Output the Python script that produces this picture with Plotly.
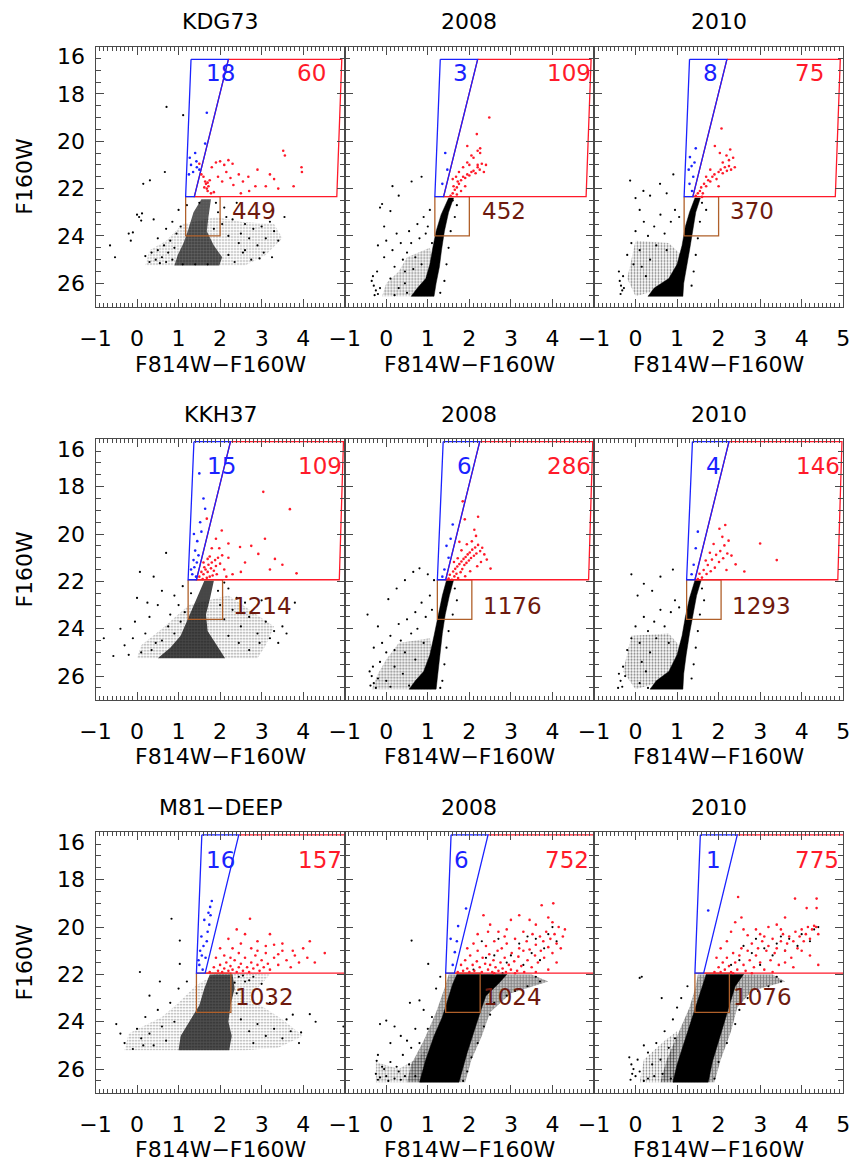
import plotly.graph_objects as go

# ---------------- data ----------------
TITLES = ["KDG73", "2008", "2010", "KKH37", "2008", "2010", "M81\u2212DEEP", "2008", "2010"]

# selection regions (one set per galaxy row)
BLUE_R1_X = [1.30, 2.20, 1.38, 1.17, 1.30]
BLUE_R1_Y = [16.54, 16.54, 22.34, 22.34, 16.54]
RED_R1_X = [2.20, 4.93, 4.81, 1.38, 2.20]
RED_R1_Y = [16.54, 16.54, 22.34, 22.34, 16.54]
BROWN_R1_X = [1.17, 2.00, 2.00, 1.17, 1.17]
BROWN_R1_Y = [22.34, 22.34, 24.00, 24.00, 22.34]

BLUE_R2_X = [1.37, 2.25, 1.43, 1.23, 1.37]
BLUE_R2_Y = [16.10, 16.10, 21.93, 21.93, 16.10]
RED_R2_X = [2.25, 4.97, 4.87, 1.43, 2.25]
RED_R2_Y = [16.10, 16.10, 21.93, 21.93, 16.10]
BROWN_R2_X = [1.23, 2.06, 2.06, 1.23, 1.23]
BROWN_R2_Y = [21.93, 21.93, 23.60, 23.60, 21.93]

BLUE_R3_X = [1.56, 2.45, 1.64, 1.43, 1.56]
BLUE_R3_Y = [16.11, 16.11, 21.95, 21.95, 16.11]
RED_R3_X = [5.80, 2.45, None, 1.64, 5.80]
RED_R3_Y = [16.11, 16.11, None, 21.95, 21.95]
BROWN_R3_X = [1.43, 2.26, 2.26, 1.43, 1.43]
BROWN_R3_Y = [21.95, 21.95, 23.60, 23.60, 21.95]

# counts shown in each panel: (blue, red, brown)
COUNTS = [("18", "60", "449"), ("3", "109", "452"), ("8", "75", "370"),
          ("15", "109", "1214"), ("6", "286", "1176"), ("4", "146", "1293"),
          ("16", "157", "1032"), ("6", "752", "1024"), ("1", "775", "1076")]
COUNT_X = [(1.66, 3.85, 2.28), (1.61, 3.86, 2.30), (1.62, 3.84, 2.27),
           (1.69, 3.87, 2.32), (1.70, 3.87, 2.32), (1.70, 3.87, 2.32),
           (1.67, 3.87, 2.36), (1.64, 3.82, 2.32), (1.70, 3.84, 2.34)]
COUNT_Y = [(17.1, 22.95), (17.13, 23.03), (17.15, 22.97)]

# ---- KDG73 ----
KDG_CORE = [(1.55, 22.45), (1.78, 22.45), (1.72, 23.2), (1.68, 23.8), (1.85, 24.4), (2.05, 24.9), (1.98, 25.25),
            (0.9, 25.25), (0.98, 24.8), (1.12, 24.3), (1.22, 23.8), (1.36, 23.0)]
KDG_HALO = [(1.1, 23.5), (1.9, 23.2), (2.5, 23.4), (3.3, 23.5), (3.5, 24.1), (3.1, 24.8), (2.6, 25.25),
            (0.2, 25.25), (0.3, 24.6), (0.7, 24.2)]
KDG_BLACK = [(-0.65, 24.4), (-0.53, 24.9), (-0.2, 23.9), (-0.15, 24.2), (-0.1, 23.85), (0.0, 23.1), (0.05, 23.2),
             (0.1, 23.35), (0.12, 23.05), (0.15, 21.8), (0.31, 21.65), (0.67, 21.3), (0.71, 18.55), (1.11, 18.9),
             (0.2, 24.85), (0.3, 25.1), (0.35, 24.7), (0.45, 25.0), (0.5, 24.6), (0.55, 25.15), (0.6, 24.9),
             (0.65, 24.4), (0.7, 25.1), (0.75, 24.7), (0.8, 24.2), (0.85, 25.0), (0.9, 24.5), (0.5, 24.1),
             (0.7, 23.7), (0.85, 23.4), (1.0, 22.9), (2.3, 23.3), (2.45, 24.3), (2.5, 23.9), (2.6, 24.6),
             (2.7, 24.1), (2.8, 23.7), (2.9, 24.4), (3.0, 23.6), (3.1, 24.1), (3.2, 23.4), (3.3, 23.8),
             (3.4, 24.2), (3.25, 24.9), (2.95, 24.95), (2.2, 24.8), (2.35, 25.1), (2.1, 22.8), (2.05, 23.5),
             (2.2, 24.0), (3.55, 23.2), (2.55, 24.7), (2.75, 25.0), (3.05, 24.7), (1.9, 22.6), (1.95, 23.0),
             (1.85, 23.7), (2.15, 23.2), (1.2, 22.7), (1.05, 23.6), (0.95, 23.9), (1.5, 22.6), (2.4, 22.6),
             (0.4, 23.3), (2.6, 23.5), (1.7, 25.2), (1.4, 25.2), (1.1, 25.2)]
KDG_RED = [(1.64, 21.7), (1.66, 21.8), (1.7, 21.75), (1.72, 21.9), (1.68, 22.0), (1.75, 21.65), (1.62, 21.95),
           (1.7, 22.1), (1.78, 22.2), (1.6, 21.5), (1.5, 20.95), (1.55, 21.4), (1.8, 21.1), (1.9, 20.9),
           (2.0, 20.85), (2.1, 21.0), (2.2, 20.8), (2.3, 20.95), (2.15, 21.3), (1.95, 21.5), (2.32, 21.85),
           (2.45, 21.4), (2.68, 21.5), (2.7, 22.1), (2.55, 21.7), (2.9, 21.2), (3.2, 21.4), (3.3, 21.6),
           (3.1, 21.9), (3.52, 20.4), (3.56, 20.6), (3.77, 21.9), (3.96, 21.1), (3.97, 21.3), (3.4, 22.0),
           (2.85, 21.9), (2.05, 21.7), (2.5, 22.2), (1.85, 22.15), (2.25, 21.55)]
KDG_BLUE = [(1.64, 20.1), (1.68, 18.8), (1.27, 20.7), (1.3, 21.0), (1.25, 21.4), (1.43, 20.85), (1.44, 21.1),
            (1.35, 21.3), (1.4, 20.5), (1.5, 21.2)]

# ---- KDG73 2008 ----
K08_CORE = [(1.5, 22.4), (1.62, 22.4), (1.5, 23.0), (1.4, 23.8), (1.33, 24.6), (1.28, 25.3), (1.2, 26.0),
            (1.15, 26.55), (0.6, 26.55), (0.75, 26.2), (0.95, 25.8), (1.05, 25.2), (1.12, 24.5), (1.2, 23.8),
            (1.32, 23.1)]
K08_HALO = [(0.5, 24.9), (1.05, 24.5), (1.15, 25.5), (1.1, 26.55), (-0.1, 26.55), (0.0, 26.0), (0.3, 25.5)]
K08_BLACK = [(-0.35, 25.9), (-0.3, 26.1), (-0.25, 26.3), (-0.2, 26.45), (-0.28, 26.5), (-0.15, 26.2),
             (-0.32, 25.7), (-0.22, 25.5), (-0.2, 24.4), (-0.05, 24.9), (0.0, 24.2), (0.15, 24.6), (0.2, 25.3),
             (0.25, 23.9), (0.35, 24.3), (0.4, 25.0), (0.5, 24.7), (0.55, 23.8), (0.6, 24.3), (0.7, 24.9),
             (0.75, 23.5), (0.8, 24.1), (0.9, 23.2), (1.0, 23.6), (1.05, 22.9), (0.45, 25.5), (0.65, 25.4),
             (0.85, 25.2), (0.1, 25.8), (0.3, 26.2), (0.45, 26.0), (-0.15, 22.8), (-0.1, 22.65), (0.1, 22.95),
             (-0.05, 23.6), (0.61, 21.7), (0.85, 21.5), (0.3, 22.3), (0.15, 21.9), (1.6, 22.5), (1.7, 22.7),
             (1.65, 23.2), (1.55, 23.8), (1.5, 24.5), (1.45, 25.2), (1.4, 25.9), (1.3, 26.4), (0.95, 23.9),
             (1.1, 24.3), (0.2, 26.5), (0.5, 26.4)]
K08_RED = [(1.55, 22.3), (1.6, 22.2), (1.65, 22.05), (1.62, 21.9), (1.7, 21.95), (1.75, 21.8), (1.72, 21.7),
           (1.8, 21.65), (1.85, 21.5), (1.9, 21.55), (1.95, 21.4), (2.0, 21.45), (2.05, 21.3), (2.1, 21.25),
           (2.15, 21.35), (2.2, 21.1), (2.25, 21.2), (2.3, 20.95), (2.2, 21.0), (2.1, 20.7), (2.05, 20.6),
           (2.2, 20.4), (2.26, 20.5), (1.95, 20.9), (1.85, 21.1), (1.75, 21.3), (1.68, 21.5), (1.6, 21.6),
           (2.18, 19.7), (2.48, 19.0), (2.26, 20.3), (1.95, 20.2), (2.0, 21.0), (1.7, 22.25), (1.8, 22.1),
           (1.9, 21.9), (2.35, 21.3), (2.4, 21.0)]
K08_BLUE = [(1.42, 20.5), (1.47, 21.2), (1.35, 21.8)]

# ---- KDG73 2010 ----
K10_CORE = [(1.43, 22.4), (1.56, 22.4), (1.45, 23.0), (1.38, 23.8), (1.3, 24.6), (1.22, 25.4), (1.16, 26.0),
            (1.14, 26.55), (0.3, 26.55), (0.45, 26.2), (0.8, 25.8), (1.0, 25.2), (1.12, 24.4), (1.2, 23.6),
            (1.3, 23.0)]
K10_HALO = [(0.0, 24.2), (0.8, 24.3), (1.1, 24.8), (1.0, 25.6), (0.5, 26.3), (0.0, 26.55), (-0.2, 25.8)]
K10_BLACK = [(-0.38, 25.9), (-0.35, 26.1), (-0.32, 26.3), (-0.36, 26.45), (-0.3, 25.7), (-0.28, 26.2),
             (-0.4, 25.5), (-0.2, 24.8), (-0.1, 24.3), (0.0, 23.8), (0.1, 24.6), (0.2, 23.4), (0.3, 24.0),
             (0.35, 25.0), (0.45, 23.6), (0.5, 24.4), (0.6, 23.1), (0.7, 23.9), (0.75, 24.6), (0.85, 23.4),
             (0.95, 22.9), (1.05, 23.2), (0.15, 25.3), (0.25, 25.7), (-0.05, 25.2), (-0.13, 21.66),
             (0.19, 22.1), (0.59, 21.8), (0.91, 21.4), (0.0, 22.4), (0.35, 22.3), (0.1, 22.9), (0.75, 22.2),
             (1.6, 22.6), (1.7, 22.9), (1.55, 23.4), (1.5, 24.1), (1.45, 24.8), (1.4, 25.5), (1.35, 26.1)]
K10_RED = [(1.45, 22.3), (1.5, 22.2), (1.55, 22.1), (1.58, 21.95), (1.62, 22.2), (1.65, 21.8), (1.7, 21.9),
           (1.75, 21.65), (1.8, 21.7), (1.85, 21.5), (1.9, 21.4), (1.95, 21.6), (2.0, 21.3), (2.05, 21.2),
           (2.1, 21.35), (2.15, 21.1), (2.2, 21.25), (2.25, 21.05), (2.3, 21.2), (2.39, 21.1), (2.03, 20.5),
           (2.07, 19.46), (2.19, 20.6), (1.91, 20.2), (2.1, 20.9), (1.8, 21.2), (1.7, 21.5), (2.25, 20.8),
           (1.6, 22.35), (2.0, 21.9), (2.35, 20.7), (2.28, 20.35)]
K10_BLUE = [(1.31, 20.67), (1.35, 21.05), (1.39, 21.5), (1.3, 21.8), (1.45, 20.3), (1.28, 21.2),
            (1.36, 22.1), (1.42, 20.9)]

# ---- KKH37 ----
KKH_CORE = [(1.62, 21.97), (1.85, 21.97), (1.76, 22.7), (1.66, 23.4), (1.7, 24.1), (1.92, 24.7), (2.12, 25.25),
            (0.5, 25.25), (0.8, 24.8), (1.05, 24.3), (1.25, 23.5), (1.45, 22.7)]
KKH_HALO = [(1.25, 23.0), (2.2, 22.6), (2.8, 23.3), (3.3, 23.9), (3.1, 24.7), (2.9, 25.25), (0.0, 25.25),
            (0.1, 24.7), (0.6, 24.0)]
KKH_BLACK = [(-0.8, 24.4), (-0.4, 24.0), (-0.57, 25.15), (0.0, 22.7), (0.07, 21.6), (0.4, 21.8), (0.7, 20.8),
             (-0.3, 24.7), (-0.1, 24.4), (-0.2, 25.1), (0.1, 25.0), (0.2, 24.2), (0.3, 23.5), (0.45, 24.6),
             (0.5, 23.0), (0.6, 22.4), (0.8, 23.4), (0.9, 22.6), (1.0, 23.0), (1.1, 22.2), (2.3, 23.2),
             (2.5, 23.9), (2.7, 23.5), (2.9, 24.2), (3.1, 23.7), (3.3, 24.1), (3.5, 23.9), (3.6, 24.2),
             (2.2, 22.3), (2.4, 22.7), (2.6, 22.9), (3.0, 22.8), (3.8, 22.9), (2.1, 22.05), (0.35, 24.9),
             (0.6, 24.5), (0.75, 23.9), (0.9, 24.2), (1.05, 23.7), (1.15, 23.3), (2.0, 23.0), (2.1, 23.6),
             (2.2, 24.3), (2.45, 24.6), (2.7, 24.9), (2.95, 24.6), (3.2, 24.4), (3.4, 24.6), (0.25, 22.9),
             (-0.05, 23.7), (1.3, 22.5), (1.95, 22.4)]
KKH_RED = [(1.5, 21.8), (1.55, 21.6), (1.6, 21.7), (1.62, 21.4), (1.65, 21.5), (1.7, 21.6), (1.72, 21.3),
           (1.75, 21.8), (1.78, 21.45), (1.8, 21.2), (1.85, 21.55), (1.88, 21.1), (1.9, 21.35), (1.95, 21.0),
           (2.0, 21.25), (1.58, 21.9), (1.68, 21.85), (1.82, 21.75), (2.05, 20.9), (2.1, 21.5), (1.68, 19.35),
           (2.04, 19.85), (1.9, 20.2), (1.8, 20.6), (2.2, 20.4), (2.48, 20.55), (2.6, 21.2), (2.92, 20.84),
           (3.32, 21.05), (3.08, 20.2), (3.04, 18.22), (3.68, 18.95), (3.84, 21.66), (2.3, 21.7), (2.5, 21.6),
           (2.75, 20.5), (3.2, 21.5), (3.5, 21.3), (2.2, 21.0), (1.98, 20.6), (1.6, 21.2), (1.75, 20.95),
           (1.92, 21.7), (2.15, 21.8), (1.7, 21.05)]
KKH_BLUE = [(1.5, 17.44), (1.64, 18.93), (1.52, 19.5), (1.4, 20.7), (1.36, 21.1), (1.38, 21.4), (1.45, 20.3),
            (1.33, 21.7), (1.42, 21.8), (1.3, 21.5), (1.48, 20.9), (1.55, 19.9), (1.6, 18.5), (1.37, 20.0),
            (1.44, 21.2)]

# ---- KKH37 2008 ----
H08_CORE = [(1.45, 21.95), (1.62, 21.95), (1.52, 22.6), (1.42, 23.4), (1.35, 24.2), (1.3, 25.0), (1.25, 25.8),
            (1.2, 26.55), (0.55, 26.55), (0.7, 26.2), (0.9, 25.8), (1.05, 25.1), (1.15, 24.3), (1.25, 23.4),
            (1.35, 22.6)]
H08_HALO = [(0.3, 24.6), (1.05, 24.4), (1.15, 25.5), (1.1, 26.55), (-0.35, 26.55), (-0.2, 25.9), (0.0, 25.3)]
H08_BLACK = [(-0.4, 25.8), (-0.35, 26.0), (-0.3, 26.3), (-0.25, 26.5), (-0.38, 26.4), (-0.2, 26.1),
             (-0.32, 25.6), (-0.15, 25.4), (-0.3, 24.8), (-0.1, 24.6), (0.0, 25.0), (0.1, 24.3), (0.2, 24.9),
             (0.3, 23.8), (0.35, 24.5), (0.45, 25.0), (0.5, 23.6), (0.6, 24.2), (0.7, 23.3), (0.75, 24.0),
             (0.85, 22.9), (0.95, 23.5), (1.05, 22.6), (1.1, 23.2), (0.2, 25.6), (0.4, 25.9), (0.0, 26.2),
             (0.1, 26.45), (0.55, 26.4), (-0.2, 23.9), (-0.45, 23.4), (0.05, 22.75), (0.25, 22.3),
             (0.45, 21.95), (0.65, 21.6), (0.8, 21.45), (1.0, 21.7), (1.15, 21.95), (1.65, 22.3), (1.7, 22.8),
             (1.6, 23.4), (1.5, 24.1), (1.45, 24.8), (1.4, 25.5), (1.35, 26.2), (1.3, 26.5), (0.9, 24.6),
             (0.7, 25.3)]
H08_RED = [(1.5, 21.88), (1.53, 21.72), (1.58, 21.93), (1.61, 21.58), (1.64, 21.79), (1.66, 21.47),
           (1.69, 21.68), (1.71, 21.37), (1.73, 21.86), (1.76, 21.27), (1.79, 21.61), (1.81, 21.16),
           (1.83, 21.48), (1.86, 21.05), (1.88, 21.31), (1.91, 20.97), (1.93, 21.22), (1.96, 20.86),
           (1.99, 21.12), (2.01, 20.78), (2.04, 21.01), (2.07, 20.66), (2.11, 20.92), (2.14, 20.57),
           (2.17, 20.82), (2.21, 20.46), (2.26, 20.72), (2.31, 20.58), (2.36, 20.86), (2.06, 20.31),
           (2.16, 20.08), (1.94, 20.43), (2.12, 19.82), (1.89, 19.38), (1.84, 18.62), (2.21, 19.27),
           (1.72, 21.02), (1.63, 21.18), (1.81, 20.69), (2.42, 21.08), (2.51, 21.46), (2.19, 21.36),
           (2.02, 21.57), (1.9, 21.78), (2.28, 21.18), (1.76, 20.33)]
H08_BLUE = [(1.45, 20.5), (1.5, 21.0), (1.4, 21.5), (1.6, 19.6), (1.35, 21.8), (1.55, 20.2)]

# ---- KKH37 2010 ----
H10_CORE = [(1.43, 21.95), (1.58, 21.95), (1.47, 22.6), (1.38, 23.4), (1.3, 24.2), (1.22, 25.1), (1.16, 25.9),
            (1.14, 26.55), (0.35, 26.55), (0.5, 26.2), (0.8, 25.8), (1.0, 25.1), (1.12, 24.3), (1.2, 23.5),
            (1.3, 22.7)]
H10_HALO = [(-0.1, 24.3), (0.8, 24.2), (1.1, 24.8), (1.0, 25.6), (0.5, 26.3), (0.0, 26.55), (-0.3, 25.8)]
H10_BLACK = [(-0.4, 25.9), (-0.36, 26.2), (-0.32, 26.45), (-0.3, 25.6), (-0.25, 26.0), (-0.42, 26.5),
             (-0.2, 24.9), (-0.1, 24.4), (0.0, 23.9), (0.1, 24.6), (0.2, 23.5), (0.3, 24.1), (0.35, 25.0),
             (0.45, 23.7), (0.5, 24.4), (0.6, 23.2), (0.7, 23.9), (0.8, 24.6), (0.85, 23.3), (0.95, 22.8),
             (1.05, 23.1), (0.15, 25.4), (0.25, 25.8), (-0.1, 21.7), (0.2, 22.1), (0.6, 21.8), (0.9, 21.5),
             (0.05, 22.6), (0.4, 22.4), (1.6, 22.3), (1.65, 22.8), (1.55, 23.4), (1.5, 24.1), (1.45, 24.8),
             (1.4, 25.5), (1.35, 26.1), (0.1, 26.3), (0.3, 26.5)]
H10_RED = [(1.5, 21.9), (1.54, 21.68), (1.6, 21.84), (1.64, 21.52), (1.71, 21.69), (1.74, 21.31), (1.81, 21.57),
           (1.84, 21.08), (1.91, 21.42), (1.94, 20.88), (2.01, 21.18), (2.04, 20.72), (2.11, 21.02), (2.14, 20.48),
           (2.21, 20.82), (2.24, 20.28), (2.09, 20.12), (2.02, 19.78), (2.16, 19.62), (1.88, 20.42), (1.79, 20.79),
           (2.31, 20.91), (2.41, 21.28), (1.69, 21.12), (3.4, 21.1), (3.0, 20.4), (2.62, 21.58), (2.19, 21.52)]
H10_BLUE = [(1.45, 20.6), (1.4, 21.3), (1.5, 19.9), (1.35, 21.7)]

# ---- M81-DEEP ----
M81_CORE = [(1.75, 22.0), (2.3, 22.0), (2.35, 22.6), (2.25, 23.3), (2.2, 24.0), (2.28, 24.6), (2.22, 25.2),
            (1.0, 25.2), (1.05, 24.6), (1.25, 24.0), (1.5, 23.3), (1.62, 22.6)]
M81_HALO = [(1.4, 22.5), (1.9, 21.95), (3.2, 22.0), (2.7, 23.0), (3.5, 23.9), (4.0, 24.6), (3.4, 25.1),
            (2.6, 25.2), (-0.3, 25.2), (-0.2, 24.5), (0.6, 23.8), (1.0, 23.2)]
M81_BLACK = [(0.07, 21.9), (0.83, 19.65), (1.03, 20.57), (1.03, 21.56), (0.55, 22.3), (4.16, 23.68),
             (4.97, 24.2), (-0.4, 24.5), (-0.3, 24.9), (-0.1, 25.15), (0.0, 24.3), (0.1, 24.7), (0.2, 23.8),
             (0.3, 24.5), (0.4, 25.0), (0.5, 23.5), (0.6, 24.2), (0.7, 24.8), (0.8, 23.2), (0.9, 24.0),
             (1.0, 22.6), (1.2, 22.3), (2.5, 23.9), (2.7, 24.4), (2.9, 24.1), (3.1, 24.6), (3.3, 24.3),
             (3.5, 24.7), (3.7, 24.4), (3.9, 24.9), (2.6, 22.3), (2.8, 22.1), (3.0, 22.4), (2.4, 22.8),
             (3.2, 23.2), (2.8, 24.9), (3.6, 23.9), (2.45, 22.1), (2.55, 22.05), (2.7, 22.25), (2.35, 22.35),
             (3.95, 24.45), (4.3, 24.0), (3.75, 23.7), (0.3, 22.9), (-0.5, 24.1), (0.15, 25.0)]
M81_RED = [(1.75, 21.9), (1.85, 21.7), (1.95, 21.85), (2.0, 21.6), (2.05, 21.9), (2.1, 21.75), (2.15, 21.5),
           (2.2, 21.85), (2.25, 21.65), (2.3, 21.8), (2.35, 21.4), (2.4, 21.9), (2.45, 21.7), (2.5, 21.55),
           (2.55, 21.85), (2.6, 21.3), (2.65, 21.7), (2.7, 21.9), (2.75, 21.5), (2.8, 21.75), (2.85, 21.2),
           (2.9, 21.6), (2.95, 21.85), (3.0, 21.4), (3.05, 21.7), (3.1, 21.1), (3.15, 21.55), (3.2, 21.8),
           (3.3, 21.3), (3.4, 21.6), (3.5, 21.0), (3.6, 21.4), (3.7, 21.7), (3.8, 21.2), (3.9, 21.5),
           (4.0, 20.9), (4.16, 20.6), (4.28, 21.5), (4.52, 21.1), (2.72, 19.65), (2.4, 20.1), (2.2, 20.5),
           (2.3, 20.9), (2.5, 20.7), (2.6, 20.3), (2.75, 20.9), (2.9, 20.6), (3.1, 20.8), (3.3, 20.75),
           (3.5, 20.7), (3.2, 20.3), (2.0, 20.9), (2.1, 21.2), (1.9, 21.3), (2.45, 21.1), (2.9, 21.0),
           (3.4, 21.15), (3.75, 21.0), (4.1, 21.3), (2.25, 21.3)]
M81_BLUE = [(1.76, 19.15), (1.77, 19.5), (1.74, 19.9), (1.55, 20.4), (1.52, 21.0), (1.5, 21.6), (1.6, 20.8),
            (1.65, 21.3), (1.7, 20.2), (1.58, 21.8), (1.62, 19.7), (1.48, 21.4), (1.8, 18.9), (1.68, 20.6),
            (1.56, 21.2), (1.72, 19.4)]

# ---- M81-DEEP 2008 ----
M08_CORE = [(1.7, 22.0), (2.9, 22.0), (2.7, 22.4), (2.4, 22.9), (2.28, 23.5), (2.12, 24.4), (1.95, 25.3),
            (1.75, 26.55), (0.8, 26.55), (0.95, 25.6), (1.15, 24.6), (1.35, 23.8), (1.5, 23.0), (1.6, 22.4)]
M08_HALO = [(1.5, 22.0), (3.5, 22.0), (3.9, 22.3), (3.0, 22.8), (2.5, 23.6), (2.3, 24.6), (2.05, 25.6),
            (1.9, 26.55), (0.5, 26.55), (0.6, 25.8), (0.9, 24.8), (1.2, 23.6), (1.4, 22.6)]
M08_FAN = [(-0.25, 25.7), (0.3, 26.0), (0.8, 25.5), (1.0, 25.0), (0.9, 26.55), (-0.25, 26.55)]
M08_BLACK = [(-0.23, 25.65), (-0.15, 24.1), (0.0, 23.95), (0.2, 24.2), (0.35, 24.6), (0.1, 24.9), (0.5, 24.8),
             (0.7, 24.3), (0.6, 25.1), (-0.2, 25.4), (0.4, 25.4), (0.8, 24.9), (1.0, 24.3), (1.1, 23.8),
             (-0.25, 26.2), (-0.2, 26.45), (0.0, 26.3), (0.2, 26.4), (0.3, 26.1), (0.45, 26.3), (-0.1, 25.9),
             (0.61, 20.57), (1.01, 21.56), (0.57, 23.2), (-0.05, 26.0), (0.1, 25.7), (0.25, 25.9), (0.55, 25.8),
             (0.7, 26.3), (0.05, 26.5), (-0.15, 26.35), (0.35, 26.45), (0.9, 23.5), (0.8, 23.1), (1.2, 22.6),
             (1.3, 22.1), (3.6, 22.1), (3.7, 22.3), (3.4, 22.5), (3.1, 22.7), (2.9, 22.9), (2.6, 23.2),
             (2.5, 23.7), (2.35, 24.2), (2.2, 24.9), (2.05, 25.5), (1.95, 26.1), (1.85, 26.5),
             (2.3, 20.6), (2.6, 21.2), (2.9, 21.5), (3.2, 20.7), (3.5, 21.1), (3.8, 20.9), (4.1, 20.6),
             (2.7, 20.5), (3.0, 21.2), (3.4, 20.4), (3.7, 21.4), (2.4, 21.3), (3.9, 20.3), (2.1, 21.8),
             (2.8, 21.95), (3.3, 21.6), (4.0, 20.0), (3.6, 20.5)]
M08_RED = [(1.72, 21.9), (1.8, 21.6), (1.85, 21.85), (1.9, 21.4), (1.95, 21.75), (2.0, 21.9), (2.02, 21.2),
           (2.08, 21.6), (2.12, 21.85), (2.18, 21.45), (2.2, 21.0), (2.25, 21.7), (2.3, 21.9), (2.32, 21.3),
           (2.38, 21.55), (2.4, 20.8), (2.45, 21.8), (2.48, 21.15), (2.5, 21.6), (2.55, 21.9), (2.58, 21.4),
           (2.6, 20.6), (2.63, 21.7), (2.68, 21.0), (2.7, 21.85), (2.75, 21.5), (2.78, 20.9), (2.8, 21.75),
           (2.85, 21.3), (2.88, 21.9), (2.9, 20.7), (2.95, 21.6), (3.0, 21.8), (3.02, 21.1), (3.08, 21.45),
           (3.1, 20.5), (3.15, 21.85), (3.18, 21.25), (3.2, 20.9), (3.25, 21.65), (3.3, 21.0), (3.32, 21.9),
           (3.38, 20.6), (3.4, 21.4), (3.45, 20.95), (3.5, 21.7), (3.52, 20.3), (3.58, 21.2), (3.6, 20.75),
           (3.65, 21.5), (3.7, 20.4), (3.72, 21.0), (3.78, 20.6), (3.8, 21.3), (3.85, 20.2), (3.9, 20.85),
           (3.95, 20.5), (4.0, 21.1), (4.05, 20.3), (4.1, 20.7), (4.15, 20.0), (4.2, 20.9), (4.25, 20.4),
           (4.0, 19.8), (3.74, 19.08), (4.02, 19.0), (2.34, 19.5), (2.5, 19.9), (2.45, 20.2), (2.7, 20.2),
           (2.9, 20.1), (3.0, 19.7), (3.3, 20.2), (3.6, 19.9), (3.9, 19.6), (2.2, 20.3), (2.1, 20.7),
           (1.95, 20.9), (2.6, 21.95), (3.1, 21.95), (3.6, 21.9), (3.9, 21.8), (4.1, 21.5), (2.85, 20.4),
           (3.45, 19.7), (4.3, 20.1), (3.2, 19.5)]
M08_BLUE = [(1.92, 19.22), (1.73, 19.96), (1.65, 21.06), (1.6, 21.6), (1.55, 20.5), (1.7, 20.6)]

# ---- M81-DEEP 2010 ----
M10_CORE = [(1.7, 22.0), (2.6, 22.0), (2.4, 22.5), (2.28, 23.2), (2.15, 24.0), (2.0, 24.9), (1.85, 25.7),
            (1.75, 26.55), (0.9, 26.55), (1.0, 25.8), (1.15, 25.0), (1.3, 24.2), (1.45, 23.4), (1.6, 22.6)]
M10_HALO = [(1.5, 22.0), (3.3, 22.0), (3.6, 22.3), (2.8, 22.7), (2.45, 23.4), (2.3, 24.4), (2.05, 25.6),
            (1.9, 26.55), (0.6, 26.55), (0.75, 25.6), (1.0, 24.6), (1.3, 23.4), (1.45, 22.5)]
M10_FAN = [(0.2, 25.6), (0.7, 24.8), (1.0, 24.4), (0.95, 26.55), (0.1, 26.55)]
M10_BLACK = [(-0.15, 25.5), (-0.1, 25.8), (-0.05, 26.0), (0.0, 26.3), (-0.12, 26.45), (0.05, 25.6),
             (0.1, 26.1), (-0.08, 26.2), (0.2, 26.5), (0.3, 25.3), (0.5, 24.9), (0.6, 25.6), (0.7, 24.4),
             (0.8, 25.1), (0.9, 23.9), (0.95, 24.7), (1.0, 23.4), (0.63, 23.0), (0.15, 22.1), (0.1, 22.15),
             (0.4, 25.8), (0.45, 26.3), (0.3, 26.4), (0.65, 26.2), (0.2, 25.0), (0.85, 26.4), (1.1, 23.0),
             (1.25, 22.5), (3.4, 22.1), (3.5, 22.3), (3.2, 22.5), (2.95, 22.7), (2.7, 23.0), (2.5, 23.5),
             (2.4, 24.1), (2.2, 24.9), (2.0, 25.7), (1.9, 26.4),
             (2.5, 21.4), (2.8, 21.1), (3.1, 20.9), (3.4, 20.7), (3.7, 20.5), (4.0, 20.3), (4.3, 20.1),
             (2.6, 20.8), (3.0, 21.6), (3.3, 21.2), (3.6, 21.0), (3.9, 20.8), (2.3, 21.6), (4.2, 20.6),
             (2.9, 20.5), (3.5, 20.4), (4.4, 20.0)]
M10_RED = [(1.9, 21.9), (2.0, 21.7), (2.05, 21.9), (2.1, 21.5), (2.15, 21.8), (2.2, 21.3), (2.25, 21.65),
           (2.3, 21.9), (2.35, 21.1), (2.4, 21.5), (2.45, 21.8), (2.5, 21.2), (2.55, 20.9), (2.6, 21.6),
           (2.65, 21.85), (2.7, 21.0), (2.75, 21.4), (2.8, 20.7), (2.85, 21.7), (2.9, 21.2), (2.95, 20.9),
           (3.0, 21.5), (3.05, 20.6), (3.1, 21.8), (3.15, 21.0), (3.2, 20.8), (3.25, 21.4), (3.3, 20.5),
           (3.35, 21.1), (3.4, 20.9), (3.45, 21.6), (3.5, 20.6), (3.55, 20.3), (3.6, 21.0), (3.65, 20.7),
           (3.7, 20.4), (3.75, 21.3), (3.8, 20.6), (3.85, 20.2), (3.9, 20.9), (3.95, 20.4), (4.0, 20.1),
           (4.05, 20.6), (4.1, 20.3), (4.15, 20.0), (4.2, 20.5), (4.25, 20.1), (4.3, 19.95), (4.35, 20.0),
           (4.4, 20.3), (4.36, 19.2), (4.12, 19.2), (3.84, 18.8), (4.36, 18.8), (2.47, 18.73), (2.4, 19.8),
           (2.6, 20.1), (2.55, 19.6), (2.7, 20.35), (2.9, 20.1), (3.0, 20.3), (3.2, 20.0), (3.4, 19.9),
           (3.6, 19.6), (2.2, 20.6), (2.3, 20.2), (2.05, 20.9), (2.8, 21.95), (3.3, 21.9), (3.8, 21.7),
           (4.2, 21.2), (4.4, 21.6), (3.6, 21.5), (4.0, 21.0), (2.35, 21.95), (1.95, 21.3), (3.1, 20.4),
           (3.5, 20.1)]
M10_BLUE = [(1.75, 19.3)]

# ---------------- panel table ----------------
# core_s / halo_s: stipple solidity; core_base: opacity of the tint under a stippled core
PANELS = [
    dict(core=KDG_CORE, core_s=0.85, core_base=0.35, halo=KDG_HALO, halo_s=0.22, fan=None,
         black=KDG_BLACK, red=KDG_RED, blue=KDG_BLUE),
    dict(core=K08_CORE, core_s=1.0, core_base=1.0, halo=K08_HALO, halo_s=0.35, fan=None,
         black=K08_BLACK, red=K08_RED, blue=K08_BLUE),
    dict(core=K10_CORE, core_s=1.0, core_base=1.0, halo=K10_HALO, halo_s=0.35, fan=None,
         black=K10_BLACK, red=K10_RED, blue=K10_BLUE),
    dict(core=KKH_CORE, core_s=0.9, core_base=0.45, halo=KKH_HALO, halo_s=0.25, fan=None,
         black=KKH_BLACK, red=KKH_RED, blue=KKH_BLUE),
    dict(core=H08_CORE, core_s=1.0, core_base=1.0, halo=H08_HALO, halo_s=0.4, fan=None,
         black=H08_BLACK, red=H08_RED, blue=H08_BLUE),
    dict(core=H10_CORE, core_s=1.0, core_base=1.0, halo=H10_HALO, halo_s=0.38, fan=None,
         black=H10_BLACK, red=H10_RED, blue=H10_BLUE),
    dict(core=M81_CORE, core_s=0.9, core_base=0.4, halo=M81_HALO, halo_s=0.22, fan=None,
         black=M81_BLACK, red=M81_RED, blue=M81_BLUE),
    dict(core=M08_CORE, core_s=1.0, core_base=1.0, halo=M08_HALO, halo_s=0.7, fan=M08_FAN,
         black=M08_BLACK, red=M08_RED, blue=M08_BLUE),
    dict(core=M10_CORE, core_s=1.0, core_base=1.0, halo=M10_HALO, halo_s=0.7, fan=M10_FAN,
         black=M10_BLACK, red=M10_RED, blue=M10_BLUE),
]
REGIONS = [
    (BLUE_R1_X, BLUE_R1_Y, RED_R1_X, RED_R1_Y, BROWN_R1_X, BROWN_R1_Y),
    (BLUE_R2_X, BLUE_R2_Y, RED_R2_X, RED_R2_Y, BROWN_R2_X, BROWN_R2_Y),
    (BLUE_R3_X, BLUE_R3_Y, RED_R3_X, RED_R3_Y, BROWN_R3_X, BROWN_R3_Y),
]

# ---------------- layout geometry (pixels) ----------------
W, H = 851, 1168
COL_PX = [(95.5, 344.7), (344.7, 594.0), (594.0, 843.2)]
ROW_PX = [(46.5, 307.0), (439.3, 699.8), (832.3, 1092.8)]
FONT = "DejaVu Sans"
BLUE_C, RED_C, BROWN_LINE, BROWN_TXT = "#1a22ff", "#ff1a2a", "#b0602a", "#6e1a0e"
AXIS_C = "#4a4a4a"


def px_x(p):
    return p / W


def px_y(p):
    return 1 - p / H


def unzip(pts):
    return [q[0] for q in pts], [q[1] for q in pts]


fig = go.Figure()
annotations = []
layout = {}

for k, p in enumerate(PANELS):
    r, c = divmod(k, 3)
    xa = "x" if k == 0 else f"x{k + 1}"
    ya = "y" if k == 0 else f"y{k + 1}"
    bx, by, rx, ry, brx, bry = REGIONS[r]

    def poly(pts, solidity, base=0.0):
        xs, ys = unzip(pts)
        xs, ys = xs + [xs[0]], ys + [ys[0]]
        if solidity >= 1:
            fig.add_trace(go.Scatter(x=xs, y=ys, xaxis=xa, yaxis=ya, mode="lines", fill="toself",
                                     fillcolor="black", line=dict(width=0.8, color="rgba(0,0,0,0.6)"),
                                     hoverinfo="skip", showlegend=False))
        else:
            fig.add_trace(go.Scatter(x=xs, y=ys, xaxis=xa, yaxis=ya, mode="lines", fill="toself",
                                     fillcolor=f"rgba(0,0,0,{base})",
                                     fillpattern=dict(shape=".", fgcolor="black", bgcolor=f"rgba(0,0,0,{base})",
                                                      size=3, solidity=solidity),
                                     line=dict(width=0), hoverinfo="skip", showlegend=False))

    poly(p["halo"], p["halo_s"])
    if p["fan"]:
        poly(p["fan"], 0.3)
    poly(p["core"], p["core_s"], p["core_base"])
    xs, ys = unzip(p["black"])
    fig.add_trace(go.Scatter(x=xs, y=ys, xaxis=xa, yaxis=ya, mode="markers",
                             marker=dict(size=2.2, color="black", line=dict(width=0)),
                             hoverinfo="skip", showlegend=False))
    fig.add_trace(go.Scatter(x=brx, y=bry, xaxis=xa, yaxis=ya, mode="lines",
                             line=dict(color=BROWN_LINE, width=1.3), hoverinfo="skip", showlegend=False))
    fig.add_trace(go.Scatter(x=rx, y=ry, xaxis=xa, yaxis=ya, mode="lines", connectgaps=False,
                             line=dict(color=RED_C, width=1.3), hoverinfo="skip", showlegend=False))
    fig.add_trace(go.Scatter(x=bx, y=by, xaxis=xa, yaxis=ya, mode="lines",
                             line=dict(color=BLUE_C, width=1.3), hoverinfo="skip", showlegend=False))
    xs, ys = unzip(p["red"])
    fig.add_trace(go.Scatter(x=xs, y=ys, xaxis=xa, yaxis=ya, mode="markers",
                             marker=dict(size=2.6, color=RED_C, line=dict(width=0)),
                             hoverinfo="skip", showlegend=False))
    xs, ys = unzip(p["blue"])
    fig.add_trace(go.Scatter(x=xs, y=ys, xaxis=xa, yaxis=ya, mode="markers",
                             marker=dict(size=2.6, color=BLUE_C, line=dict(width=0)),
                             hoverinfo="skip", showlegend=False))

    x0, x1 = COL_PX[c]
    y0, y1 = ROW_PX[r]
    xkey = "xaxis" if k == 0 else f"xaxis{k + 1}"
    ykey = "yaxis" if k == 0 else f"yaxis{k + 1}"
    layout[xkey] = dict(domain=[px_x(x0), px_x(x1)], anchor=ya, range=[-1, 5], showgrid=False, zeroline=False,
                        showline=True, linecolor=AXIS_C, linewidth=1, mirror="allticks",
                        ticks="inside", ticklen=8, tickcolor=AXIS_C, tickwidth=1.3,
                        tickmode="linear", tick0=-1, dtick=1,
                        labelalias={} if c == 2 else {"5": " "},
                        ticklabelstandoff=12, layer="above traces",
                        tickfont=dict(family=FONT, size=22, color="black"),
                        minor=dict(ticks="inside", ticklen=4, tickcolor=AXIS_C, tickwidth=1.1,
                                   tick0=-1, dtick=0.1, showgrid=False),
                        automargin=False)
    layout[ykey] = dict(domain=[px_y(y1), px_y(y0)], anchor=xa, range=[27, 16], showgrid=False, zeroline=False,
                        showline=True, linecolor=AXIS_C, linewidth=1, mirror="allticks",
                        ticks="inside", ticklen=8, tickcolor=AXIS_C, tickwidth=1.3,
                        tickmode="linear", tick0=16, dtick=2, labelalias={"16": " "},
                        showticklabels=(c == 0), ticklabelstandoff=5, layer="above traces",
                        tickfont=dict(family=FONT, size=22, color="black"),
                        minor=dict(ticks="inside", ticklen=5, tickcolor=AXIS_C, tickwidth=1.1,
                                   tick0=16, dtick=0.5, showgrid=False),
                        automargin=False)

    annotations.append(dict(text=TITLES[k], x=px_x((x0 + x1) / 2), y=px_y(y0 - 25), xref="paper", yref="paper",
                            showarrow=False, xanchor="center", yanchor="middle",
                            font=dict(family=FONT, size=22, color="black")))
    annotations.append(dict(text="F814W\u2212F160W", x=px_x((x0 + x1) / 2), y=px_y(y1 + 57), xref="paper",
                            yref="paper", showarrow=False, xanchor="center", yanchor="middle",
                            font=dict(family=FONT, size=22, color="black")))
    if c == 0:
        annotations.append(dict(text="F160W", x=px_x(25), y=px_y((y0 + y1) / 2), xref="paper", yref="paper",
                                showarrow=False, textangle=-90, xanchor="center", yanchor="middle",
                                font=dict(family=FONT, size=22, color="black")))
        annotations.append(dict(text="16", x=px_x(87), y=px_y(y0 + 10.5), xref="paper", yref="paper",
                                showarrow=False, xanchor="right", yanchor="middle",
                                font=dict(family=FONT, size=22, color="black")))
    nb, nr, nbr = COUNTS[k]
    cxb, cxr, cxbr = COUNT_X[k]
    cy_top, cy_bot = COUNT_Y[r]
    for txt, xx, yy, col in ((nb, cxb, cy_top, BLUE_C), (nr, cxr, cy_top, RED_C), (nbr, cxbr, cy_bot, BROWN_TXT)):
        annotations.append(dict(text=txt, x=xx, y=yy, xref=xa, yref=ya, showarrow=False, xanchor="left",
                                yanchor="middle", xshift=-2, font=dict(family=FONT, size=23, color=col)))

fig.update_layout(width=W, height=H, margin=dict(l=0, r=0, t=0, b=0), paper_bgcolor="white",
                  plot_bgcolor="white", showlegend=False, annotations=annotations,
                  font=dict(family=FONT, color="black"), **layout)

fig.write_html("out.html")
